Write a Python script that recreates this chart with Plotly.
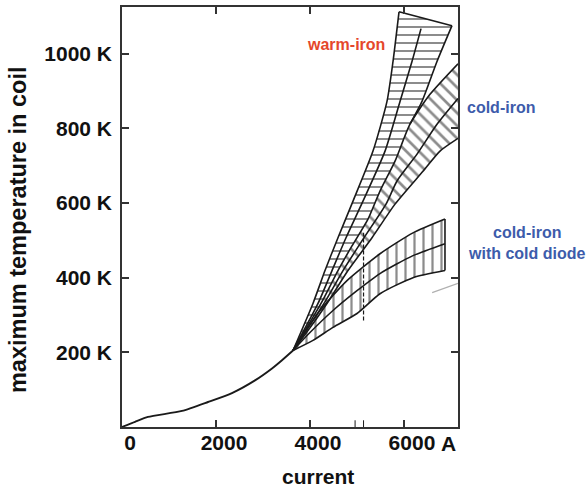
import plotly.graph_objects as go

# ---------------- data ----------------
x_ticks = [0, 2000, 4000, 6000]
x_ticktext = ["0", "2000", "4000", "6000"]
y_ticks = [200, 400, 600, 800, 1000]
y_ticktext = ["200 K", "400 K", "600 K", "800 K", "1000 K"]
minor_ticks = [4960, 5140]

# common curve (current in A, temperature in K)
common_x = [0, 277, 553, 1277, 1830, 2340, 2830, 3192, 3405, 3639]
common_y = [0, 14, 27, 43, 67, 91, 125, 157, 179, 205]

# band 1: warm-iron
l1_x = [3639, 4064, 4320, 4596, 4916, 5341, 5639, 5767, 5895]
l1_y = [205, 331, 419, 507, 605, 739, 872, 979, 1112]
c1_x = [3639, 4171, 4469, 4767, 5128, 5597, 5916, 6171, 6363]
c1_y = [205, 331, 419, 507, 605, 739, 872, 979, 1067]
r1_x = [7022, 6703, 6384, 6128]
r1_y = [1075, 979, 872, 811]

# band 2: cold-iron (top -> bottom)
u2_x = [7150, 6554, 6128, 5810, 5490, 5235, 4894, 4596, 4235, 3639]
u2_y = [973, 891, 811, 712, 632, 557, 485, 419, 331, 205]
c2_x = [7150, 6703, 6278, 5852, 5618, 5150, 4703, 4299, 3639]
c2_y = [880, 811, 731, 659, 597, 507, 419, 331, 205]
d2_x = [7150, 6767, 6405, 5810, 5320, 4809, 4362, 3852, 3639]
d2_y = [773, 739, 685, 597, 507, 419, 331, 240, 205]

# band 3: cold-iron with cold diode (right -> left)
u3_x = [6873, 6192, 5490, 4788, 4213, 3639]
u3_y = [557, 520, 464, 392, 312, 205]
c3_x = [6873, 6192, 5490, 5001, 4490, 4000, 3639]
c3_y = [491, 459, 411, 365, 312, 253, 205]
d3_x = [6873, 6192, 5490, 5001, 4490, 4064, 3639]
d3_y = [419, 400, 357, 304, 267, 232, 205]

# faint stray trace near the right frame
stray_x = [6600, 7150]
stray_y = [360, 385]

dash_x = [5140, 5140]
dash_y = [285, 520]

labels = ["warm-iron", "cold-iron", "cold-iron<br>with cold diode"]

# ---------------- figure ----------------
FONT = "Liberation Sans, Arial, sans-serif"
INK = "#1a1a1a"
SMOOTH = 0.6
none = "rgba(0,0,0,0)"
fig = go.Figure()


def band(xs, ys, shape, size, solidity):
    fig.add_trace(go.Scatter(
        x=xs, y=ys, mode="lines", fill="toself", fillcolor=none,
        fillpattern=dict(shape=shape, fgcolor=INK, bgcolor=none, size=size, solidity=solidity),
        line=dict(color=none, width=0), hoverinfo="skip", showlegend=False))


# band 1 polygon: L1 up, R1 down, then lower part of U2
i_join = u2_x.index(r1_x[-1])
b1x = l1_x + r1_x + u2_x[i_join + 1:]
b1y = l1_y + r1_y + u2_y[i_join + 1:]
band(b1x, b1y, "-", 8, 0.25)
# band 2 polygon: U2 then D2 reversed
band(u2_x + d2_x[::-1], u2_y + d2_y[::-1], "\\", 9, 0.3)
# band 3 polygon
band(u3_x + d3_x[::-1], u3_y + d3_y[::-1], "|", 9, 0.25)


def line(xs, ys, width=1.6, dash=None, shape="spline", color=INK):
    fig.add_trace(go.Scatter(x=xs, y=ys, mode="lines",
                             line=dict(color=color, width=width, dash=dash, shape=shape,
                                       smoothing=SMOOTH if shape == "spline" else None),
                             hoverinfo="skip", showlegend=False))


line(common_x, common_y, 1.9)
# boundaries
line(l1_x, l1_y)
line(r1_x, r1_y)
line([l1_x[-1], r1_x[0]], [l1_y[-1], r1_y[0]], shape="linear")
line(u2_x, u2_y)
line(d2_x, d2_y)
line(u3_x, u3_y)
line(d3_x, d3_y)
line([u3_x[0], d3_x[0]], [u3_y[0], d3_y[0]], shape="linear")
# centre lines
line(c1_x, c1_y)
line(c2_x, c2_y)
line(c3_x, c3_y)
line(dash_x, dash_y, 1.2, "4px,2px", "linear")
line(stray_x, stray_y, 1.2, shape="linear", color="#b0b0b0")

for t in minor_ticks:
    fig.add_shape(type="line", xref="x", yref="y domain", x0=t, x1=t, y0=0, y1=0.016,
                  line=dict(color=INK, width=1))

axis_font = dict(family=FONT, size=21, color="#111", weight="bold")
fig.update_xaxes(range=[0, 7150], tickvals=x_ticks, ticktext=x_ticktext,
                 showgrid=False, zeroline=False, showline=True, linecolor="#333",
                 linewidth=1.6, mirror="ticks", ticks="inside", ticklen=7, tickwidth=1.5,
                 tickcolor="#333", tickfont=axis_font, ticklabelshift=8, ticklabelstandoff=-4)
fig.update_yaxes(range=[0, 1125], tickvals=y_ticks, ticktext=y_ticktext,
                 showgrid=False, zeroline=False, showline=True, linecolor="#333",
                 linewidth=1.6, mirror="ticks", ticks="inside", ticklen=7, tickwidth=1.5,
                 tickcolor="#333", tickfont=axis_font, ticklabelstandoff=4)

ann_font = dict(family=FONT, size=16, weight="bold")
fig.add_annotation(text="A", xref="paper", yref="paper", x=1.0, y=0, xanchor="right",
                   yanchor="middle", yshift=-16, showarrow=False, font=axis_font)
fig.add_annotation(text="current", xref="paper", yref="paper", x=0.583, y=0,
                   xanchor="center", yanchor="middle", yshift=-49, showarrow=False,
                   font=axis_font)
fig.add_annotation(text="maximum temperature in coil", xref="paper", yref="paper",
                   x=-0.3095, y=0.469, xanchor="center", yanchor="middle", textangle=-90,
                   showarrow=False, font=dict(family=FONT, size=23.5, color="#111", weight="bold"))
fig.add_annotation(text=labels[0], xref="paper", yref="paper", x=0.666, y=0.911,
                   xanchor="center", yanchor="middle", showarrow=False,
                   font=dict(ann_font, color="#e5472b"))
fig.add_annotation(text=labels[1], xref="paper", yref="paper", x=1.128, y=0.76,
                   xanchor="center", yanchor="middle", showarrow=False,
                   font=dict(ann_font, color="#3d5cab"))
fig.add_annotation(text=labels[2], xref="paper", yref="paper", x=1.205, y=0.438,
                   xanchor="center", yanchor="middle", showarrow=False, align="center",
                   font=dict(ann_font, color="#3d5cab"))

fig.update_layout(width=588, height=489, margin=dict(l=122, r=130, t=5, b=62),
                  paper_bgcolor="white", plot_bgcolor="white", showlegend=False)
fig.write_html("out.html", config={"displayModeBar": False},
               post_script="document.body.style.margin='0px';")
